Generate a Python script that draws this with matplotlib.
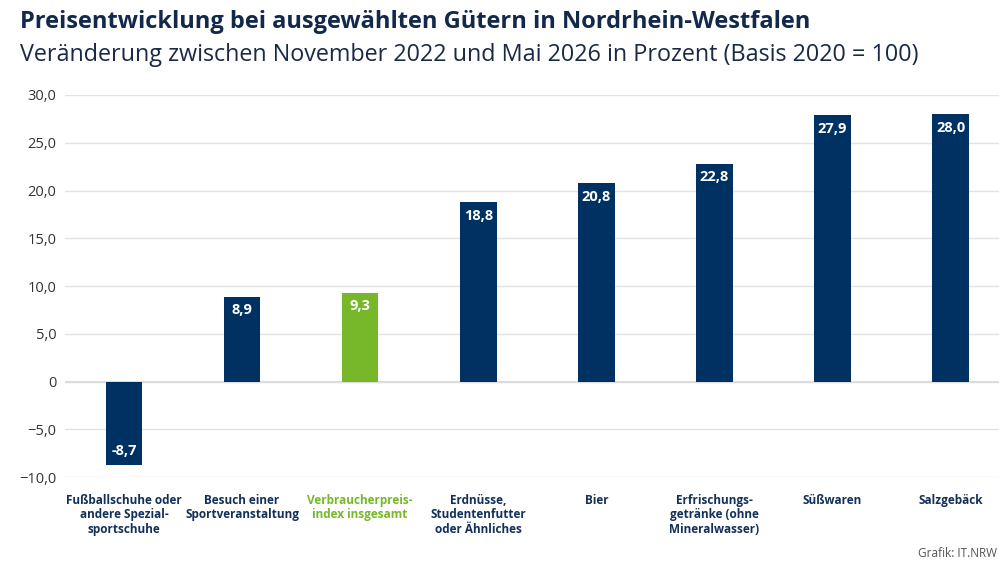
import matplotlib.pyplot as plt
import numpy as np

plt.rcParams['font.family'] = ['Open Sans', 'DejaVu Sans']

categories = ["Fußballschuhe oder\nandere Spezial-\nsportschuhe",
              "Besuch einer\nSportveranstaltung",
              "Verbraucherpreis-\nindex insgesamt",
              "Erdnüsse,\nStudentenfutter\noder Ähnliches",
              "Bier",
              "Erfrischungs-\ngetränke (ohne\nMineralwasser)",
              "Süßwaren",
              "Salzgebäck"]
values = [-8.7, 8.9, 9.3, 18.8, 20.8, 22.8, 27.9, 28.0]
highlight = 2  # Verbraucherpreisindex
yticks = [-10, -5, 0, 5, 10, 15, 20, 25, 30]

navy = '#003163'
green = '#76b82a'

fig = plt.figure(figsize=(9.99, 5.62), dpi=100)
ax = fig.add_axes([0.065, 0.151, 0.935, 0.680])

x = np.arange(len(categories))
colors = [green if i == highlight else navy for i in range(len(categories))]
ax.bar(x, values, width=0.31, color=colors, zorder=3)

for i, v in enumerate(values):
    label = ('%.1f' % v).replace('.', ',')
    if v >= 0:
        ax.text(i, v - 0.7, label, ha='center', va='top', color='white',
                fontsize=10.5, fontweight='bold', zorder=4)
    else:
        ax.text(i, v + 0.7, label, ha='center', va='bottom', color='white',
                fontsize=10.5, fontweight='bold', zorder=4)

ax.set_xlim(-0.5, 7.41)
ax.set_ylim(-10, 30)
ax.set_yticks(yticks)
ax.set_yticklabels(['0' if t == 0 else ('%.1f' % t).replace('.', ',').replace('-', '\u2212') for t in yticks])
ax.tick_params(axis='y', length=0, pad=6, labelsize=10.5, labelcolor='#333333')
ax.grid(axis='y', color='#e3e3e3', linewidth=1, zorder=0)
ax.set_axisbelow(True)
ax.axhline(0, color='#dcdcdc', linewidth=1.5, zorder=1)
for s in ax.spines.values():
    s.set_visible(False)

ax.set_xticks(x)
ax.set_xticklabels(categories)
ax.tick_params(axis='x', length=0, pad=12, labelsize=8.5)
for i, lbl in enumerate(ax.get_xticklabels()):
    lbl.set_fontweight('bold')
    lbl.set_color(green if i == highlight else '#12305a')
    lbl.set_verticalalignment('top')
    lbl.set_linespacing(1.15)

fig.text(0.02, 0.961, 'Preisentwicklung bei ausgewählten Gütern in Nordrhein-Westfalen',
         fontsize=17, fontweight='bold', color='#13294b', va='center')
fig.text(0.02, 0.902, 'Veränderung zwischen November 2022 und Mai 2026 in Prozent (Basis 2020 = 100)',
         fontsize=16.8, color='#1a2a45', va='center')
fig.text(0.998, 0.015, 'Grafik: IT.NRW', fontsize=8.5, color='#555555', va='center', ha='right')

fig.savefig('out.png', dpi=100)
